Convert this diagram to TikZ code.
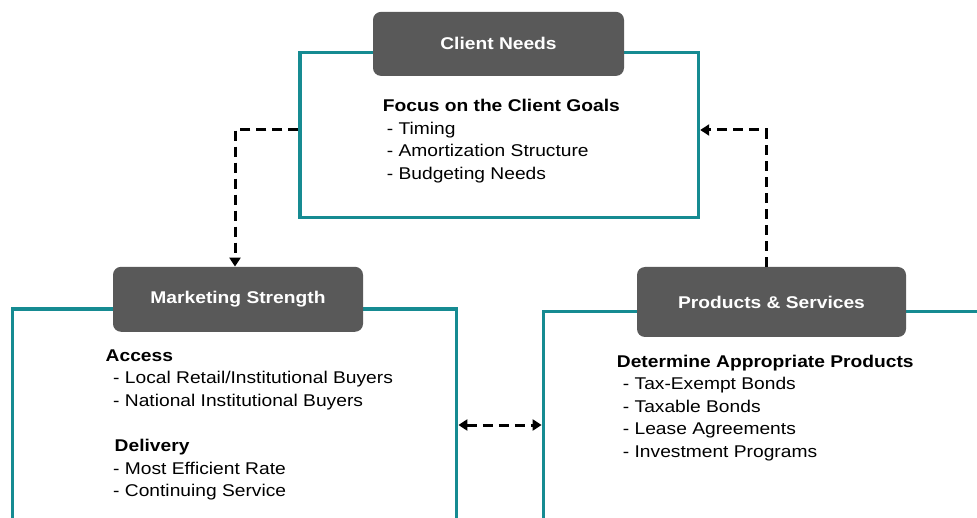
\documentclass[tikz,border=0pt]{standalone}
\usepackage{fontspec}
\setmainfont{Liberation Sans}[FakeStretch=1.13]
\usetikzlibrary{arrows.meta,positioning}
\definecolor{panelteal}{RGB}{22,139,146}
\definecolor{headgray}{RGB}{89,89,89}

\begin{document}
\begin{tikzpicture}[
    x=1pt, y=-1pt,
    panel/.style={
        draw=panelteal, line width=3.4pt,
        inner sep=0pt, anchor=north west
    },
    header/.style={
        fill=headgray, rounded corners=8pt,
        text=white, inner sep=0pt,
        font=\bfseries\fontsize{17}{20}\selectfont
    },
    body/.style={
        anchor=north west, inner sep=0pt,
        align=left,
        font=\fontsize{17}{22.6}\selectfont
    },
    link/.style={
        draw=black, line width=3pt,
        dash pattern=on 10pt off 6pt
    },
    linkarrow/.style={-{Triangle[length=9pt,width=11pt]}}
]
\useasboundingbox (0,0) rectangle (977,518);

% panels
\node[panel, minimum width=398.5pt, minimum height=165pt] (needsbox) at (298.3,50.8) {};
\node[panel, minimum width=444pt, minimum height=260pt] (marketbox) at (11,307.3) {};
\node[panel, minimum width=480pt, minimum height=260pt] (productsbox) at (541.6,309.8) {};

% headers
\node[header, minimum width=251pt, minimum height=64pt] (needs) at (498.5,43.9) {Client Needs};
\node[header, minimum width=250pt, minimum height=65pt] (market) at (238,299.3) {Marketing Strength};
\node[header, minimum width=269pt, minimum height=70pt] (products) at (771.5,302) {Products \& Services};

% texts
\node[body] (needstext) at (382.7,99.1) {\textbf{Focus on the Client Goals}\\
    \hspace*{4pt}- Timing\\
    \hspace*{4pt}- Amortization Structure\\
    \hspace*{4pt}- Budgeting Needs};
\node[body] (markettext) at (105.5,349.5) {\textbf{Access}\\
    \hspace*{7.5pt}- Local Retail/Institutional Buyers\\
    \hspace*{7.5pt}- National Institutional Buyers\\[22.6pt]
    \hspace*{9pt}\textbf{Delivery}\\
    \hspace*{7.5pt}- Most Efficient Rate\\
    \hspace*{7.5pt}- Continuing Service};
\node[body] (productstext) at (616.7,354.5) {\textbf{Determine Appropriate Products}\\
    \hspace*{6pt}- Tax-Exempt Bonds\\
    \hspace*{6pt}- Taxable Bonds\\
    \hspace*{6pt}- Lease Agreements\\
    \hspace*{6pt}- Investment Programs};

% links
\draw[link, linkarrow] ([yshift=5pt]needsbox.west) -| ([xshift=-3pt]market.north);
\draw[link, linkarrow] ([xshift=-5.5pt]products.north) |- ([yshift=5pt]needsbox.east);
\draw[link, {Triangle[length=9pt,width=11pt]}-{Triangle[length=9pt,width=11pt]}]
    ([yshift=-117.7pt]marketbox.north east) -- ([yshift=-115.2pt]productsbox.north west);
\end{tikzpicture}
\end{document}
